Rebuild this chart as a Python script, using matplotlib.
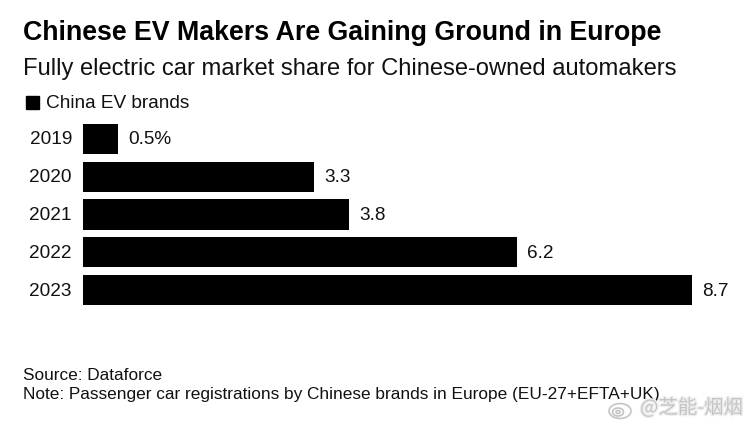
import matplotlib
matplotlib.use("Agg")
import matplotlib.pyplot as plt
import matplotlib.patheffects as pe
from matplotlib.patches import Rectangle, Ellipse
from matplotlib.transforms import ScaledTranslation

years = ["2019", "2020", "2021", "2022", "2023"]
share = [0.5, 3.3, 3.8, 6.2, 8.7]
value_labels = ["0.5%", "3.3", "3.8", "6.2", "8.7"]

plt.rcParams['font.family'] = ['Liberation Sans', 'DejaVu Sans']

W, H = 754, 426
fig = plt.figure(figsize=(W / 100, H / 100), dpi=100)

# axes box in pixels: bars start at x=83, rows from y=120 to y=309
ax = fig.add_axes([83 / W, 1 - 309 / H, (740 - 83) / W, (309 - 120) / H])
ax.barh(years, share, height=0.8, color="black")
ax.set_ylim(4.5, -0.5)
ax.set_xlim(0, 8.7 * (740 - 83) / (692 - 83))
for i, v in enumerate(share):
    ax.annotate(value_labels[i], (v, i), xytext=(10, -1), textcoords="offset pixels",
                va="center", ha="left", fontsize=13.7, color="#111111")
for s in ax.spines.values():
    s.set_visible(False)
ax.xaxis.set_visible(False)
ax.tick_params(axis="y", length=0, pad=8, labelsize=13.7, labelcolor="#111111")
# nudge year labels up a pixel
for lab in ax.get_yticklabels():
    lab.set_transform(lab.get_transform() + ScaledTranslation(0, 1 / 100, fig.dpi_scale_trans))

fig.text(23 / W, 1 - 33 / H, "Chinese EV Makers Are Gaining Ground in Europe",
         fontsize=19.3, fontweight="bold", va="center", color="black")
fig.text(23 / W, 1 - 69.5 / H, "Fully electric car market share for Chinese-owned automakers",
         fontsize=17.1, va="center", color="#111111")

# legend
fig.add_artist(Rectangle((25.5 / W, 1 - 109 / H), 13.5 / W, 13.5 / H, color="black",
                         transform=fig.transFigure))
fig.text(46 / W, 1 - 103.5 / H, "China EV brands", fontsize=13.7, va="center", color="#111111")

fig.text(23 / W, 1 - 375.5 / H, "Source: Dataforce", fontsize=12.45, va="center", color="#111111")
fig.text(23 / W, 1 - 395 / H,
         "Note: Passenger car registrations by Chinese brands in Europe (EU-27+EFTA+UK)",
         fontsize=12.45, va="center", color="#111111")

# watermark
fig.text(640 / W, 1 - 408 / H, "@芝能-烟烟", fontsize=14, va="center", color="#c4c4c4",
         family=['Noto Sans CJK SC', 'DejaVu Sans'],
         path_effects=[pe.withStroke(linewidth=2, foreground="#eeeeee")])
for cx, cy, w, h in [(620, 411, 22, 15), (618, 412, 11, 8), (618, 412, 4, 3)]:
    fig.add_artist(Ellipse((cx / W, 1 - cy / H), w / W, h / H, fill=False, ec="#c4c4c4", lw=1.2,
                           transform=fig.transFigure))

fig.savefig("out.png", dpi=100)
